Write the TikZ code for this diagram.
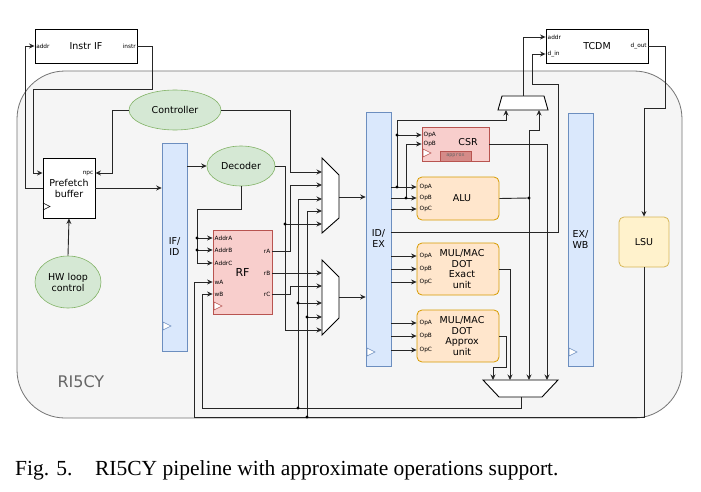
\documentclass[tikz,border=0pt]{standalone}
\usepackage{fontspec}
\setmainfont{Liberation Serif}
\setsansfont{DejaVu Sans}
\setmonofont{DejaVu Sans Mono}
\usetikzlibrary{arrows.meta,shapes.geometric}
\definecolor{barF}{HTML}{DAE8FC}\definecolor{barD}{HTML}{6C8EBF}
\definecolor{grF}{HTML}{D5E8D4}\definecolor{grD}{HTML}{82B366}
\definecolor{rdF}{HTML}{F8CECC}\definecolor{rdD}{HTML}{B85450}
\definecolor{orF}{HTML}{FFE6CC}\definecolor{orD}{HTML}{D79B00}
\definecolor{yeF}{HTML}{FFF2CC}\definecolor{yeD}{HTML}{D6B656}
\begin{document}
\begin{tikzpicture}[x=1pt,y=-1pt,
  every node/.style={font=\sffamily\fontsize{9.5}{11}\selectfont},
  w/.style={line width=0.9pt,black!85},
  a/.style={w,-{Stealth[length=5.5pt,width=5pt]}},
  dot/.style={circle,fill=black,inner sep=1.2pt},
  box/.style={draw,line width=0.9pt,fill=white,inner sep=0pt},
  bar/.style={draw=barD,fill=barF,line width=0.6pt,inner sep=0pt,minimum width=25pt,align=center},
  ell/.style={ellipse,draw=grD,fill=grF,line width=0.6pt,inner sep=0pt,align=center},
  fu/.style={draw=orD,fill=orF,line width=0.8pt,rounded corners=5pt,inner sep=0pt,minimum width=82pt,align=center},
  port/.style={font=\sffamily\fontsize{5.8}{7}\selectfont,inner sep=1.5pt},
  clk/.style={draw,fill=white,line width=0.5pt},
  mux/.style={draw,fill=white,line width=0.9pt}]
\useasboundingbox (0,0) rectangle (701,492);
\fill[white] (0,0) rectangle (701,492);
\draw[black!55,fill=black!4,line width=0.8pt,rounded corners=48pt] (17,71) rectangle (682,418);
\node[text=black!60,font=\sffamily\fontsize{16}{17}\selectfont,anchor=west] (core) at (54,382) {RI5CY};

% top memories
\node[box,minimum width=102pt,minimum height=34pt] (iif) at (86,46) {Instr IF};
\node[port,anchor=west] (iifa) at (iif.west) {addr};
\node[port,anchor=east] (iifi) at (iif.east) {instr};
\node[box,minimum width=102pt,minimum height=34pt] (tcdm) at (597,46) {TCDM};
\node[port,anchor=west] (tca) at (546,37) {addr};
\node[port,anchor=west] (tcd) at (546,54) {d\_in};
\node[port,anchor=east] (tco) at (tcdm.east) {d\_out};

% front end
\node[ell,minimum width=92pt,minimum height=40pt] (ctrl) at (175,110) {Controller};
\node[box,minimum width=52pt,minimum height=60pt,align=center] (pf) at (69,188) {Prefetch\\buffer};
\node[port,anchor=east] (npc) at (95,173) {npc};
\draw[clk,fill=none] (43,203) -- (50,206.5) -- (43,210);
\node[ell,minimum width=66pt,minimum height=52pt] (hw) at (68,282) {HW loop\\control};
\node[bar,minimum height=208pt,draw=barD] (ifid) at (174.5,247) {IF/\\ID};
\draw[draw=barD,fill=white,line width=0.5pt] (163,322) -- (171,326) -- (163,330) -- cycle;
\node[ell,minimum width=68pt,minimum height=40pt] (dec) at (241,166) {Decoder};

% RF
\node[draw=rdD,fill=rdF,line width=0.8pt,minimum width=59pt,minimum height=84pt,inner sep=0pt] (rf) at (242.5,272) {\fontsize{11}{12}\selectfont RF};
\foreach \t/\y in {AddrA/238,AddrB/250,AddrC/263,wA/282,wB/294}{\node[port,anchor=west] at (213,\y) {\t};}
\foreach \t/\y in {rA/251,rB/273,rC/294}{\node[port,anchor=east] at (272,\y) {\t};}
\draw[draw=rdD,fill=white,line width=0.5pt] (214,302) -- (222,306) -- (214,310) -- cycle;

% muxes
\draw[mux] (322,158) -- (339,175) -- (339,218) -- (322,233) -- cycle;
\coordinate (m1) at (322,158);
\draw[mux] (322,260) -- (339,277) -- (339,318) -- (322,335) -- cycle;
\coordinate (m2) at (322,260);
\draw[mux] (502,96) -- (544,96) -- (548,110) -- (498,110) -- cycle;
\coordinate (tm) at (523,96);
\draw[mux] (483,380) -- (558,380) -- (542,397) -- (499,397) -- cycle;
\coordinate (bm) at (521,397);

% ID/EX and EX/WB
\node[bar,minimum height=254pt] (idex) at (378.5,239) {ID/\\EX};
\draw[draw=barD,fill=white,line width=0.5pt] (367,348) -- (375,352) -- (367,356) -- cycle;
\node[bar,minimum height=253pt] (exwb) at (580.5,239.5) {EX/\\WB};
\draw[draw=barD,fill=white,line width=0.5pt] (569,348) -- (577,352) -- (569,356) -- cycle;

% CSR
\node[draw=rdD,fill=rdF,line width=0.8pt,minimum width=67pt,minimum height=34pt,inner sep=0pt] (csr) at (455.5,144) {};
\node at (468,142) {CSR};
\node[draw=rdD,fill=rdD!55!rdF,line width=0.8pt,minimum width=31pt,minimum height=10pt,inner sep=0pt,font=\ttfamily\fontsize{5}{5}\selectfont,text=black!60] (apx) at (455.5,156) {approx};
\node[port,anchor=west] at (422,135) {OpA};
\node[port,anchor=west] at (422,144) {OpB};
\draw[draw=rdD,fill=white,line width=0.5pt] (423,149) -- (431,153) -- (423,157) -- cycle;

% FUs
\node[fu,minimum height=43pt] (alu) at (458,198.5) {\hspace{8pt}ALU};
\node[fu,minimum height=52pt,font=\sffamily\fontsize{9.5}{10.5}\selectfont] (mule) at (458,269) {\hspace{8pt}MUL/MAC\\\hspace{8pt}DOT\\\hspace{8pt}Exact\\\hspace{8pt}unit};
\node[fu,minimum height=52pt,font=\sffamily\fontsize{9.5}{10.5}\selectfont] (mula) at (458,336) {\hspace{8pt}MUL/MAC\\\hspace{8pt}DOT\\\hspace{8pt}Approx\\\hspace{8pt}unit};
\foreach \y/\t in {187/OpA,198/OpB,209/OpC,256/OpA,269/OpB,282/OpC,323/OpA,336/OpB,350/OpC}{\node[port,anchor=west] at (418,\y) {\t};}
\node[draw=yeD,fill=yeF,line width=0.8pt,rounded corners=5pt,minimum width=50pt,minimum height=50pt] (lsu) at (644,242) {LSU};

% ---- wires: front end
\draw[a] (pf.west |- 0,188) -- (25,188) |- (iif.west);
\draw[a] (iif.east) -| (152,89) -| (33,173) -- (pf.west |- 0,173);
\draw[a] (ctrl.west) -| (112,173) -- (pf.east |- 0,173);
\draw[a] (hw.north) -- (pf.south);
\draw[a] (pf.east |- 0,188) -- (ifid.west |- 0,188);
\draw[a] (ifid.east |- 0,166) -- (dec.west);
\draw[w] (dec.south) |- (197,209) -- (197,263);
\foreach \y in {238,250,263}{\draw[a] (197,\y) -- (rf.west |- 0,\y);}
\node[dot] at (197,238) {}; \node[dot] at (197,250) {};
% decoder to muxes
\draw[w] (dec.east) -| (285,330);
\draw[a] (285,330) -- (322,330);
\draw[a] (285,224) -- (322,224);
\node[dot] at (285,224) {};
\draw[a] (ctrl.east) -| (290,172) -- (322,172);
\draw[a] (rf.east |- 0,251) -| (290,185) -- (322,185);
\draw[a] (rf.east |- 0,273) -- (322,273);
\draw[a] (rf.east |- 0,294) -| (290,286) -- (322,286);
\draw[a] (298,408) -- (298,199) -- (322,199);
\draw[a] (298,303) -- (322,303);
\draw[a] (307,417) -- (307,211) -- (322,211);
\draw[a] (307,317) -- (322,317);
\node[dot] at (298,303) {}; \node[dot] at (307,317) {};
\draw[a] (bm) |- (202,408) |- (rf.west |- 0,294);
\draw[a] (lsu.south) |- (194,417) |- (rf.west |- 0,282);
\node[dot] at (298,408) {}; \node[dot] at (307,417) {};
\draw[a] (339,197) -- (idex.west |- 0,197);
\draw[a] (339,297) -- (idex.west |- 0,297);

% ---- wires: execute
\foreach \y in {187,198,209,256,269,282,323,336,350}{\draw[a] (idex.east |- 0,\y) -- (alu.west |- 0,\y);}
\draw[a] (397,187) |- (506,120) -- (506,110);
\draw[a] (397,135) -- (csr.west |- 0,135);
\draw[a] (406,198) |- (csr.west |- 0,144);
\node[dot] at (397,187) {}; \node[dot] at (397,135) {}; \node[dot] at (406,198) {};
\draw[w] (alu.east) -- (529,198);
\draw[a] (529,198) |- (539,130) -- (539,110);
\draw[a] (529,198) -- (529,380);
\node[dot] at (529,198) {};
\draw[a] (csr.east) -| (547,380);
\draw[a] (mule.east) -| (510,380);
\draw[a] (mula.east) -| (506,367) -| (493,380);
\draw[a] (idex.east |- 0,232) -| (558,84) -| (532,54) -- (tcdm.west |- 0,54);
\draw[a] (tm) |- (tcdm.west |- 0,37);
\draw[a] (tcdm.east) -| (665,108) -| (lsu.north);

% caption
\node[anchor=west,font=\rmfamily\fontsize{21.5}{23}\selectfont,inner sep=0pt] (cap) at (15,470) {Fig. 5.\hspace{1.05em}RI5CY pipeline with approximate operations support.};
\end{tikzpicture}
\end{document}
